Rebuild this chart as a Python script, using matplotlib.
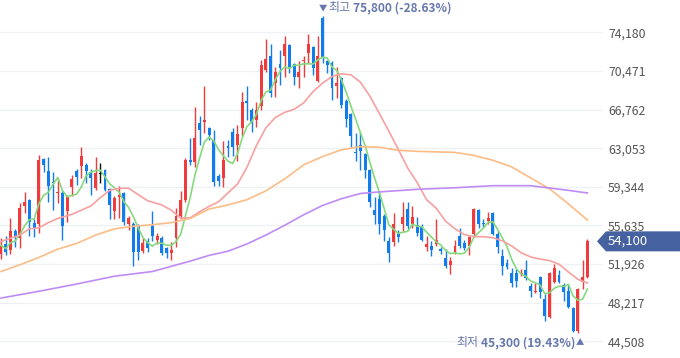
import numpy as np
import pandas as pd
import matplotlib
matplotlib.use('Agg')
import matplotlib.pyplot as plt
from matplotlib.patches import Polygon
from matplotlib.transforms import IdentityTransform

plt.rcParams['font.family'] = ['Noto Sans CJK KR', 'DejaVu Sans']

# daily candles (KRW)
opens = [52900, 53800, 53300, 55100, 54400, 57500, 58100, 55900, 55800, 62000,
         60900, 59800, 58700, 58700, 57000, 59300, 60900, 61300, 61400, 60800,
         59200, 60600, 61000, 59100, 57000, 58400, 58700, 55800, 55800, 55700,
         53200, 54100, 55600, 54200, 54400, 53500, 53000, 54400, 56500, 58100,
         61900, 61700, 65500, 65600, 65000, 63800, 60400, 60200, 63300, 64600,
         63400, 65000, 67600, 66700, 65800, 67100, 70600, 71900, 69300, 71100,
         71900, 73000, 71100, 69900, 71400, 72200, 72800, 69500, 75600, 71400,
         71200, 69000, 69800, 67600, 66300, 62700, 63400, 62500, 61000, 57100,
         58200, 56500, 54100, 54000, 54900, 55800, 57200, 55800, 55700, 55600,
         53600, 53700, 53800, 53400, 52500, 51800, 53100, 54600, 53900, 53700,
         54800, 57100, 55900, 56100, 56800, 54800, 52700, 52000, 51100, 51100,
         51000, 51300, 49800, 49200, 50700, 48600, 46800, 50200, 50900, 49900,
         49300, 47700, 45500, 50200, 50700]
highs = [54400, 54600, 56300, 55300, 57800, 58800, 58200, 56200, 62400, 62100,
         62200, 60800, 60200, 59000, 58600, 60500, 61100, 63200, 61600, 61100,
         62200, 61600, 61100, 59200, 58500, 59400, 58800, 56500, 56000, 55800,
         54400, 54400, 57000, 54900, 54600, 53600, 54000, 57300, 58900, 62100,
         64000, 67000, 66100, 69000, 65100, 64800, 60600, 63700, 63800, 65000,
         65300, 68500, 69000, 66900, 67500, 71500, 73500, 73100, 70900, 72500,
         73800, 73100, 71200, 71400, 71900, 74000, 72900, 73800, 75800, 71500,
         71400, 70900, 69900, 67800, 66400, 64500, 64600, 62600, 61100, 58400,
         58900, 56700, 54500, 56800, 55200, 57900, 57900, 57500, 56400, 55800,
         54600, 54100, 56200, 53600, 53400, 52600, 54200, 55400, 54200, 54600,
         57300, 57200, 56200, 56900, 56900, 55100, 53400, 52400, 51500, 51400,
         51400, 52300, 50100, 50100, 50800, 49000, 51200, 51900, 51300, 50100,
         49900, 47800, 49600, 52300, 54300]
lows = [52400, 52800, 52900, 53600, 53500, 56800, 54600, 54500, 54900, 60800,
        57900, 57100, 57800, 54200, 56000, 58500, 59500, 60200, 59700, 58600,
        59000, 59700, 58900, 56200, 56200, 56300, 55700, 55200, 51700, 52300,
        53000, 53100, 54100, 53800, 52800, 52500, 52300, 53600, 56200, 57900,
        61400, 61200, 63400, 64500, 63800, 59400, 59400, 59300, 62200, 62300,
        61800, 64200, 65800, 64600, 65100, 66700, 70400, 68000, 68000, 69100,
        69900, 70300, 69100, 68800, 69900, 71200, 70100, 69400, 71200, 70300,
        67700, 67900, 66900, 65100, 63200, 61800, 61000, 60200, 57400, 55800,
        54800, 54100, 52100, 53700, 54000, 55100, 55200, 55400, 54600, 54100,
        53200, 52700, 53700, 52900, 51500, 51000, 52900, 53500, 53300, 52800,
        54500, 55400, 55500, 55800, 54700, 53000, 50900, 51400, 49700, 49700,
        50800, 50400, 48800, 49100, 48700, 46400, 46700, 50100, 50100, 48400,
        47700, 45400, 45300, 49500, 50600]
closes = [53700, 53100, 55100, 54600, 57300, 57900, 56000, 55400, 61900, 61400,
          59400, 59700, 58800, 55600, 58400, 60100, 60300, 62300, 60900, 60200,
          60700, 60600, 59000, 57600, 58300, 58600, 56000, 56300, 53100, 53100,
          53900, 53500, 54600, 54600, 53000, 53000, 53300, 56500, 58100, 61900,
          61700, 64000, 64800, 65800, 64300, 59800, 59900, 61900, 63100, 63200,
          64400, 67500, 67400, 65500, 66700, 71000, 71600, 68400, 70400, 70800,
          73100, 70900, 69900, 70400, 71500, 73100, 70800, 71900, 71700, 71000,
          68800, 69300, 67200, 65900, 64200, 62600, 62800, 61000, 57900, 56600,
          55800, 55200, 53000, 55800, 54500, 56400, 55600, 56400, 54900, 54200,
          53800, 53300, 54200, 53200, 51700, 52200, 53700, 53700, 53500, 54500,
          57200, 55800, 55800, 56300, 54800, 53600, 51700, 51600, 50100, 50300,
          51100, 50600, 49300, 49300, 49200, 46900, 51100, 51500, 50200, 49200,
          47800, 45500, 49500, 50700, 54100]

# moving average lines (candle index -> price)
ma20_idx = [0, 4, 6, 8, 10, 12, 15, 19, 21, 23, 25, 27, 29, 31, 34, 36, 38, 40, 42, 44,
            46, 48, 50, 52, 54, 56, 58, 60, 62, 64, 66, 68, 70, 72, 74, 76, 78, 80, 82, 84,
            86, 88, 90, 92, 94, 96, 98, 100, 102, 104, 106, 108, 110, 112, 114, 116, 118,
            120, 122, 124]
ma20_val = [54100, 54700, 55300, 55400, 55900, 56300, 56700, 57500, 58300, 59000,
            59200, 59200, 58600, 58000, 57600, 57100, 56350, 56350, 56950, 57450,
            57900, 58750, 59600, 61200, 63300, 65000, 66000, 66500, 66800, 67400,
            68500, 69300, 69950, 70200, 70100, 69400, 68050, 66400, 64700, 62950,
            61150, 59750, 58100, 57300, 56050, 55300, 54750, 54550, 54550, 54450,
            54150, 53650, 53000, 52600, 52400, 52250, 51900, 51150, 50450, 50100]
ma60_idx = [0, 4, 8, 12, 16, 20, 24, 28, 32, 36, 40, 44, 48, 52, 56, 60, 64, 68, 72, 76,
            80, 84, 88, 92, 96, 100, 104, 108, 112, 116, 120, 124]
ma60_val = [51200, 51850, 52550, 53350, 53900, 54700, 55300, 55550, 55700, 55900,
            56300, 57200, 57600, 58100, 58950, 60100, 61450, 62250, 62900, 63200,
            63150, 62850, 62750, 62700, 62650, 62350, 61900, 61250, 60200, 59150,
            57700, 56150]
ma120_idx = [0, 8, 16, 24, 32, 40, 44, 48, 52, 56, 60, 64, 68, 72, 76, 80, 88, 96, 104,
             112, 120, 124]
ma120_val = [48650, 49300, 50000, 50750, 51200, 52200, 52750, 53150, 53850, 54700,
             55650, 56650, 57550, 58200, 58700, 58850, 59100, 59250, 59450, 59450,
             59000, 58750]

yticks = [74180, 70471, 66762, 63053, 59344, 55635, 51926, 48217, 44508]

df = pd.DataFrame({'open': opens, 'high': highs, 'low': lows, 'close': closes})
df['ma5'] = df['close'].rolling(5, min_periods=1).mean()
x = np.arange(len(df))

up_col, dn_col = '#ef3b3b', '#137ced'
cols = np.where(df['close'] > df['open'], up_col,
                np.where(df['close'] < df['open'], dn_col, '#111111'))

fig = plt.figure(figsize=(6.8, 3.58), dpi=100)
ax = fig.add_axes([0, 0, 603 / 680, 1])
ax.set_xlim(-0.21, 127.3)
ax.set_ylim(42890, 77294)

# candles
ax.vlines(x, df['low'], df['high'], colors=cols, lw=1, zorder=2)
body_lo = np.minimum(df['open'], df['close'])
body_h = np.maximum((df['close'] - df['open']).abs(), 100)
ax.bar(x, body_h, bottom=body_lo, width=0.62, color=cols, lw=0, zorder=2)

# moving averages
ax.plot(x, df['ma5'], color='#86d97e', lw=1.2, zorder=3)
ax.plot(ma20_idx, ma20_val, color='#f7a0a0', lw=1.2, zorder=3)
ax.plot(ma60_idx, ma60_val, color='#fdbc85', lw=1.2, zorder=3)
ax.plot(ma120_idx, ma120_val, color='#bf8cf6', lw=1.2, zorder=3)

ax.yaxis.tick_right()
ax.set_yticks(yticks)
ax.set_yticklabels([f'{v:,}' for v in yticks])
ax.tick_params(axis='y', length=0, pad=3.6, labelsize=8.8, labelcolor='#555555')
ax.set_xticks([])
ax.grid(axis='y', color='#eef0f4', lw=1)
ax.set_axisbelow(True)
for s in ax.spines.values():
    s.set_visible(False)

# high / low markers, built from pieces in pixel space
last = closes[-1]
imax = int(np.argmax(highs))
imin = int(np.argmin(lows))
hi, lo = highs[imax], lows[imin]
ann_col = '#6677ad'
px = IdentityTransform()
rend = fig.canvas.get_renderer()

hx, hy = ax.transData.transform((imax, hi))
ty = hy + 8
fig.text(hx, ty, '▼', transform=px, fontsize=6, color=ann_col, ha='center', va='center')
t1 = fig.text(hx + 6, ty, '최고', transform=px, fontsize=8.6, color=ann_col,
              ha='left', va='center')
w1 = t1.get_window_extent(rend).width
fig.text(hx + 8 + w1, ty, f'{hi:,} ({(last / hi - 1) * 100:.2f}%)', transform=px,
         fontsize=8.6, color=ann_col, ha='left', va='center', fontweight='bold')

lx, ly = ax.transData.transform((imin, lo))
by = ly - 10
fig.text(lx + 2, by, '▲', transform=px, fontsize=6, color=ann_col, ha='center', va='center')
t2 = fig.text(lx - 3, by, f'{lo:,} ({(last / lo - 1) * 100:.2f}%)', transform=px,
              fontsize=8.6, color=ann_col, ha='right', va='center', fontweight='bold')
w2 = t2.get_window_extent(rend).width
fig.text(lx - 5 - w2, by, '최저', transform=px, fontsize=8.6, color=ann_col,
         ha='right', va='center')

# last price tag
W, H = 680, 358
yp = ax.transData.transform((0, last))[1]
pts = [(597, yp), (606, yp + 10), (680, yp + 10), (680, yp - 10), (606, yp - 10)]
fig.patches.append(Polygon([(p / W, q / H) for p, q in pts], closed=True,
                           transform=fig.transFigure, facecolor='#46619f', edgecolor='none'))
fig.text(608 / W, yp / H, f'{last:,}', color='white', fontsize=9.5, ha='left', va='center')

fig.savefig('out.png', dpi=100)
